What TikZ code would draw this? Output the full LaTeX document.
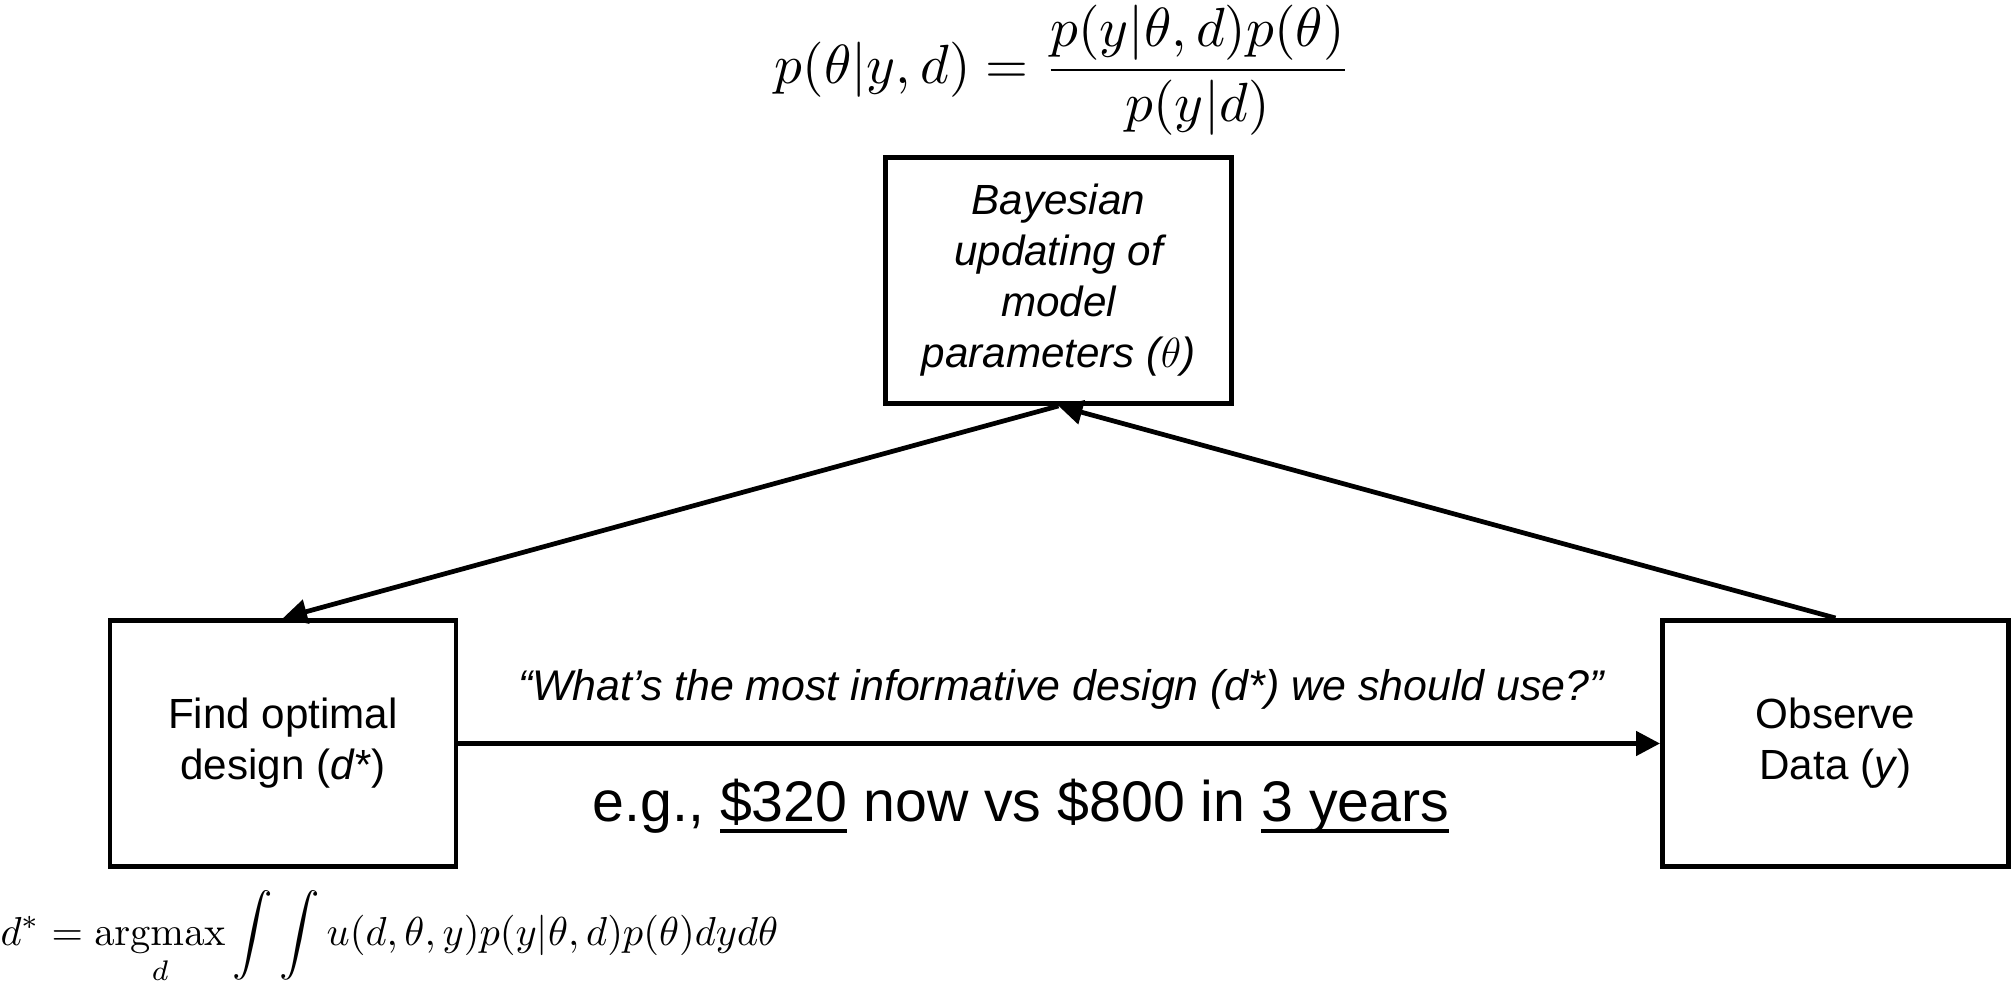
\documentclass[tikz,border=0pt]{standalone}
\usepackage{amsmath}
\usepackage{graphicx}
\usepackage[no-math]{fontspec}
\setmainfont{Liberation Sans}
\usepackage{tikz}
\usetikzlibrary{positioning,arrows.meta}
\tikzset{box/.style={draw, line width=1.4pt, minimum width=3.46cm, minimum height=2.46cm, align=center, font=\fontsize{12}{14.5}\selectfont}}
\tikzset{link/.style={line width=1.35pt, -{Triangle[length=0.24cm,width=0.24cm]}}}
% thick underline
\newcommand{\thickul}[1]{\setbox0\hbox{#1}\rlap{\rule[-3pt]{\wd0}{1.1pt}}\box0\relax}

\begin{document}
\begin{tikzpicture}
\useasboundingbox (0,0) rectangle (20.11,9.82);
\node[box] (bayes) at (10.585,7.015) {\itshape Bayesian\\\itshape updating of\\\itshape model\\\itshape parameters ($\theta$)};
\node[box] (design) at (2.83,2.385) {Find optimal\\design (\textit{d}*)};
\node[box] (observe) at (18.355,2.385) {Observe\\Data (\textit{y})};
%
\node[anchor=base] (bayesrule) at (10.63,8.98) {\scalebox{1.57}{$\displaystyle p(\theta|y,d) = \frac{p(y|\theta,d)p(\theta)}{p(y|d)}$}};
\node[anchor=base west, inner sep=0pt] (utility) at (0,0.36) {\scalebox{1.15}{$\displaystyle d^* = \operatorname*{argmax}_d \int\int u(d,\theta,y)p(y|\theta,d)p(\theta)dyd\theta$}};
%
\draw[link] (design) -- (observe);
\draw[link] (bayes.south) -- (design.north);
\draw[link] (observe.north) -- (bayes.south);
%
\node[font=\fontsize{12.2}{14}\selectfont\itshape] (question) at (10.61,2.93) {“What’s the most informative design (d*) we should use?”};
\node[anchor=base, font=\fontsize{16.3}{19}\selectfont] (example) at (10.21,1.60) {e.g., \thickul{\$320} now vs \$800 in \thickul{3 years}};
\end{tikzpicture}
\end{document}
